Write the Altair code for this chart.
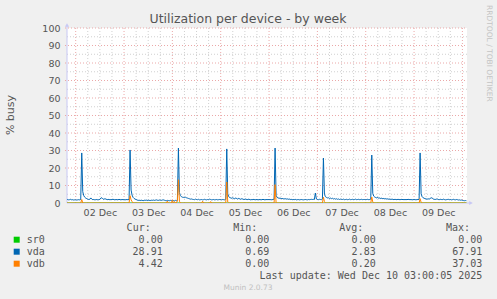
import altair as alt
import pandas as pd

# ---------------- data ----------------
series_names = ["sr0", "vda", "vdb"]
series_colors = ["#00CC00", "#0066B3", "#FF8000"]

# vda: 30-minute samples (% busy)
vda_dec01 = [1.9, 2.0, 1.8, 1.9, 2.1, 1.8, 1.9, 1.7, 1.8]  # 19:30 .. 23:30
vda_dec02 = [1.8, 1.7, 1.8, 1.9, 1.8, 2.0,
             28.6, 6.5, 4.2, 3.3, 2.8, 2.5,
             2.2, 2.0, 2.1, 2.9, 2.2, 1.9,
             2.0, 1.8, 1.9, 2.0, 1.8, 1.9,
             2.1, 2.8, 3.0, 2.4, 2.0, 2.5,
             2.2, 2.0, 1.9, 2.1, 1.8, 2.0,
             1.9, 2.2, 1.9, 1.8, 2.0, 1.9,
             1.8, 2.1, 1.9, 1.8, 2.0, 1.9]
vda_dec03 = [1.9, 1.8, 1.9, 2.0, 1.8, 2.1,
             30.3, 7.4, 4.5, 3.2, 2.6, 2.2,
             2.0, 1.7, 1.5, 1.6, 1.4, 1.6,
             1.5, 1.3, 1.6, 1.5, 1.7, 1.4,
             1.6, 1.5, 1.4, 1.6, 1.5, 1.7,
             1.5, 1.6, 1.8, 1.6, 1.5, 1.7,
             1.6, 1.5, 1.7, 1.8, 1.6, 1.4,
             1.3, 1.5, 1.4, 1.3, 1.5, 1.4]
vda_dec04 = [1.3, 1.4, 1.2, 1.5, 1.3, 1.6,
             31.4, 6.0, 4.2, 3.6, 3.3, 3.2,
             3.1, 3.3, 3.0, 2.8, 2.6, 2.4,
             2.2, 2.3, 2.1, 2.0, 1.9, 2.2,
             2.0, 1.9, 2.1, 1.8, 1.9, 2.0,
             1.8, 1.9, 2.1, 1.9, 1.8, 2.0,
             1.9, 2.2, 2.0, 1.8, 1.9, 2.0,
             1.8, 1.9, 2.0, 1.8, 1.9, 2.0]
vda_dec05 = [1.9, 1.8, 2.0, 1.9, 1.8, 2.1,
             30.9, 5.2, 3.6, 3.1, 2.9, 2.7,
             3.0, 2.6, 2.4, 2.9, 2.5, 2.2,
             2.7, 2.3, 2.1, 2.5, 2.2, 2.0,
             2.1, 2.3, 1.9, 2.0, 2.2, 1.9,
             1.8, 2.0, 1.9, 2.1, 1.8, 1.9,
             2.0, 1.8, 1.9, 2.0, 1.8, 1.9,
             2.1, 1.9, 1.8, 2.0, 1.9, 2.0]
vda_dec06 = [1.9, 2.0, 1.8, 1.9, 2.0, 2.2,
             31.4, 4.4, 3.2, 2.9, 2.7, 2.8,
             2.5, 2.6, 2.4, 2.3, 2.5, 2.2,
             2.4, 2.1, 2.3, 2.0, 2.1, 1.9,
             2.0, 1.9, 2.1, 1.8, 1.9, 2.0,
             1.8, 1.9, 2.0, 1.9, 1.8, 1.9,
             2.0, 1.9, 1.8, 2.0, 1.9, 2.0,
             2.1, 2.0, 2.1, 2.0, 5.7, 2.3]
vda_dec07 = [2.0, 1.9, 2.1, 2.0, 1.9, 2.2,
             25.7, 5.0, 3.6, 3.2, 2.9, 3.0,
             2.6, 2.8, 2.5, 2.7, 2.3, 2.5,
             2.2, 2.4, 2.1, 2.3, 2.0, 2.2,
             2.1, 2.0, 2.2, 1.9, 2.0, 2.1,
             1.9, 2.0, 2.2, 1.9, 2.0, 2.1,
             1.9, 2.0, 2.2, 1.9, 2.0, 2.1,
             1.9, 2.0, 2.1, 1.9, 2.0, 2.0]
vda_dec08 = [1.9, 2.0, 2.1, 1.9, 2.0, 2.2,
             27.4, 5.4, 3.9, 3.4, 3.1, 2.9,
             3.2, 2.7, 2.9, 2.5, 2.8, 2.4,
             2.6, 2.3, 2.5, 2.2, 2.4, 2.1,
             2.3, 2.0, 2.2, 2.1, 1.9, 2.1,
             2.0, 1.9, 2.1, 2.0, 1.9, 2.0,
             2.1, 1.9, 2.0, 1.9, 2.0, 1.9,
             2.1, 2.0, 1.9, 2.0, 1.8, 1.9]
vda_dec09 = [2.0, 1.9, 1.8, 2.0, 1.9, 2.1,
             28.6, 5.3, 3.6, 3.0, 2.7, 2.5,
             2.3, 2.2, 2.4, 2.2, 2.6, 3.0,
             2.8, 2.3, 2.1, 2.0, 2.2, 2.3,
             2.0, 1.9, 2.1, 2.0, 1.9, 2.2,
             2.0, 1.8, 1.9, 2.0, 2.1, 1.9,
             2.0, 1.8, 1.9, 2.1, 1.9, 1.8,
             2.0, 1.9, 1.7, 1.8, 1.6, 1.7]
vda_dec10 = [1.5, 1.4, 1.3, 1.4, 1.3]  # 00:00 .. 02:00

# vdb: zero except at these samples
vdb_times = ["2025-12-02 03:00", "2025-12-03 03:00", "2025-12-03 03:30", "2025-12-03 04:00",
             "2025-12-03 21:30", "2025-12-04 00:00", "2025-12-04 01:00", "2025-12-04 02:30",
             "2025-12-04 03:00", "2025-12-04 03:30", "2025-12-04 15:00", "2025-12-04 19:00",
             "2025-12-05 03:00", "2025-12-05 03:30", "2025-12-06 03:00", "2025-12-07 03:00",
             "2025-12-07 03:30", "2025-12-08 03:00", "2025-12-08 03:30", "2025-12-09 03:00",
             "2025-12-09 03:30"]
vdb_values = [2.0, 4.2, 1.8, 0.8,
              1.0, 1.5, 0.8, 1.2,
              13.3, 1.0, 1.0, 0.8,
              12.0, 0.5, 10.5, 3.3,
              0.8, 3.4, 0.6, 2.5,
              0.4]

# legend table
leg_cur = ["0.00", "28.91", "4.42"]
leg_min = ["0.00", "0.69", "0.00"]
leg_avg = ["0.00", "2.83", "0.20"]
leg_max = ["0.00", "67.91", "37.03"]
leg_heads = ["Cur:", "Min:", "Avg:", "Max:"]
y_ticks = list(range(0, 101, 10))
y_minor = list(range(5, 100, 10))
x_label_days = ["2025-12-02", "2025-12-03", "2025-12-04", "2025-12-05",
                "2025-12-06", "2025-12-07", "2025-12-08", "2025-12-09"]
title_text = "Utilization per device - by week"
ytitle_text = "% busy"
last_update = "Last update: Wed Dec 10 03:00:05 2025"
munin_text = "Munin 2.0.73"
rrd_text = "RRDTOOL / TOBI OETIKER"

# ---------------- build tables ----------------
def ms(ts):
    return int(pd.Timestamp(ts, tz="UTC").value // 1_000_000)

vda = (vda_dec01 + vda_dec02 + vda_dec03 + vda_dec04 + vda_dec05 +
       vda_dec06 + vda_dec07 + vda_dec08 + vda_dec09 + vda_dec10)
times = pd.date_range("2025-12-01 19:30", periods=len(vda), freq="30min", tz="UTC")
t_ms = [int(t.value // 1_000_000) for t in times]
vdb_map = {ms(t): v for t, v in zip(vdb_times, vdb_values)}
vdb = [vdb_map.get(t, 0.0) for t in t_ms]
sr0 = [0.0 for _ in t_ms]

df_sr0 = pd.DataFrame({"t": t_ms, "v": sr0})
df_vda = pd.DataFrame({"t": t_ms, "v": vda})
df_vdb = pd.DataFrame({"t": t_ms, "v": vdb})

grid6 = pd.date_range("2025-12-02 00:00", "2025-12-10 00:00", freq="6h", tz="UTC")
df_minor_x = pd.DataFrame({"t": [int(g.value // 1_000_000) for g in grid6 if g.hour != 0]})
df_major_x = pd.DataFrame({"t": [int(g.value // 1_000_000) for g in grid6 if g.hour == 0]})
df_minor_y = pd.DataFrame({"v": y_minor})
df_major_y = pd.DataFrame({"v": y_ticks[1:]})
noon_ms = [ms(d + " 12:00") for d in x_label_days]

x_dom = [ms("2025-12-01 19:41"), ms("2025-12-10 02:17")]
W, H = 400, 175
GRAY = "#555555"
AXC = "#C8C8F4"
RED = "#EBA8A8"
MINOR = "#D0D0D0"

xscale = alt.Scale(type="utc", domain=x_dom, nice=False)
yscale = alt.Scale(domain=[0, 100], nice=False, zero=True)
xaxis = alt.Axis(values=noon_ms, labelExpr="utcFormat(datum.value, '%d %b')", grid=False, ticks=False,
                 tickSize=0, domain=False, labelPadding=4, labelFont="DejaVu Sans", labelFontSize=9.5,
                 labelColor=GRAY, title=None, labelOverlap=False)
yaxis = alt.Axis(values=y_ticks, grid=False, ticks=False, tickSize=0, domain=False, labelPadding=7,
                 labelFont="DejaVu Sans", labelFontSize=9.5, labelColor=GRAY, title=None)

def X():
    return alt.X("t:T", scale=xscale, axis=xaxis, title=None)

def Y():
    return alt.Y("v:Q", scale=yscale, axis=yaxis, title=None)

minor_x = alt.Chart(df_minor_x).mark_rule(color=MINOR, strokeDash=[1, 2], strokeWidth=1).encode(
    x=X(), y=alt.value(0), y2=alt.value(H))
minor_y = alt.Chart(df_minor_y).mark_rule(color=MINOR, strokeDash=[1, 2], strokeWidth=1).encode(
    y=Y(), x=alt.value(0), x2=alt.value(W))
major_x = alt.Chart(df_major_x).mark_rule(color=RED, strokeDash=[1, 2], strokeWidth=1).encode(
    x=X(), y=alt.value(0), y2=alt.value(H + 2))
major_y = alt.Chart(df_major_y).mark_rule(color=RED, strokeDash=[1, 2], strokeWidth=1).encode(
    y=Y(), x=alt.value(-2), x2=alt.value(W))

one = pd.DataFrame({"k": [0]})
axis_y_line = alt.Chart(one).mark_rule(color=AXC, strokeWidth=1).encode(
    x=alt.value(0), y=alt.value(-3), y2=alt.value(H))
axis_x_line = alt.Chart(one).mark_rule(color=AXC, strokeWidth=1).encode(
    y=alt.value(H), x=alt.value(0), x2=alt.value(W + 3))
arrow_up = alt.Chart(one).mark_point(shape="triangle-up", filled=True, color=AXC, size=18, opacity=1).encode(
    x=alt.value(0), y=alt.value(-3))
arrow_right = alt.Chart(one).mark_point(shape="triangle-right", filled=True, color=AXC, size=18, opacity=1).encode(
    x=alt.value(W + 4), y=alt.value(H))

def series_line(df, color):
    return alt.Chart(df).mark_line(color=color, strokeWidth=1, clip=True).encode(x=X(), y=Y())

l_sr0 = series_line(df_sr0, series_colors[0])
l_vda = series_line(df_vda, series_colors[1])
l_vdb = series_line(df_vdb, series_colors[2])

def txt(s, x, y, **kw):
    return alt.Chart(one).mark_text(**kw).encode(x=alt.value(x), y=alt.value(y), text=alt.value(s))

texts = [
    txt(title_text, 181, -9, font="DejaVu Sans", fontSize=12.5, color=GRAY, align="center", baseline="middle"),
    txt(ytitle_text, -56.5, 87, font="DejaVu Sans", fontSize=11, color=GRAY, align="center",
        baseline="middle", angle=270),
    txt(rrd_text, 422, -23, font="DejaVu Sans", fontSize=7.5, color="#C4C4C4", align="left",
        baseline="middle", angle=90),
    txt(munin_text, 181, 260.3, font="DejaVu Sans", fontSize=7.5, color="#C0C0C0", align="center",
        baseline="middle"),
    txt(last_update, 415.3, 247.7, font="DejaVu Sans Mono", fontSize=10, color=GRAY, align="right",
        baseline="middle"),
]
mono = dict(font="DejaVu Sans Mono", fontSize=10, color=GRAY, baseline="middle")
head_x = [83.7, 190.3, 296.3, 403]
val_x = [95.7, 202.3, 308.7, 415.3]
row_y = [211.7, 223.7, 235.7]
for h, hx in zip(leg_heads, head_x):
    texts.append(txt(h, hx, 200.3, align="right", **mono))
for i, name in enumerate(series_names):
    texts.append(txt(name, -40.3, row_y[i], align="left", **mono))
    texts.append(alt.Chart(one).mark_square(color=series_colors[i], size=36, opacity=1).encode(
        x=alt.value(-50.3), y=alt.value(row_y[i])))
    for col, vx in zip([leg_cur, leg_min, leg_avg, leg_max], val_x):
        texts.append(txt(col[i], vx, row_y[i], align="right", **mono))

chart = alt.layer(
    minor_x, minor_y, major_x, major_y, axis_y_line, axis_x_line, arrow_up, arrow_right,
    l_sr0, l_vda, l_vdb, *texts
).properties(
    width=W, height=H,
    padding={"left": 67, "top": 28, "right": 30, "bottom": 96},
    autosize=alt.AutoSizeParams(type="none"),
).configure(background="#F0F0F0").configure_view(fill="white", strokeWidth=0)

chart.save("out.html", embed_options={"renderer": "svg", "actions": False})
